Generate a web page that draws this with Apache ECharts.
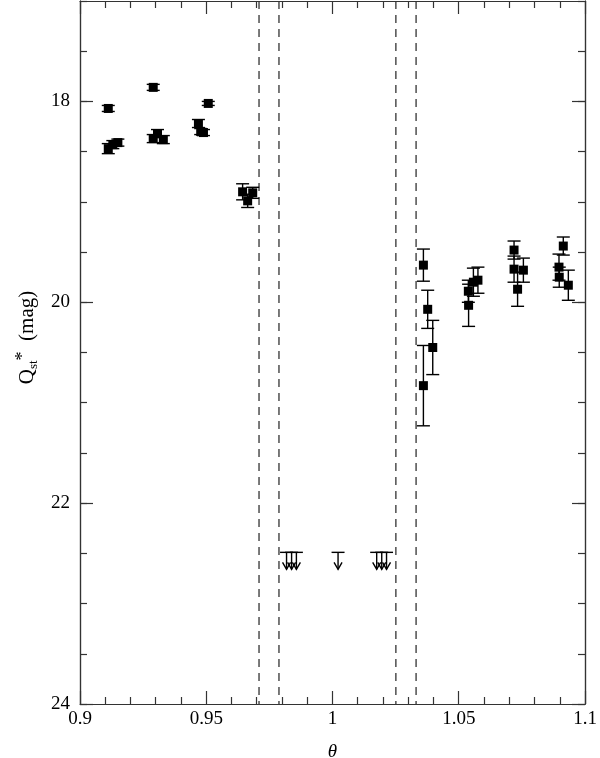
<!DOCTYPE html>
<html>
<head>
<meta charset="utf-8">
<script src="https://cdn.jsdelivr.net/npm/echarts@6/dist/echarts.min.js"></script>
<style>html,body{margin:0;padding:0;background:#fff}#c{width:600px;height:758px}</style>
</head>
<body>
<div id="c"></div>
<script>
// Detections: theta, Q_st* (mag), error (mag)
const thetaVals = [0.9112, 0.9290, 0.9508, 0.9112, 0.9130, 0.9150, 0.9290, 0.9307, 0.9330, 0.9469, 0.9478, 0.9489,
                   0.9644, 0.9684, 0.9664,
                   1.0360, 1.0377, 1.0397, 1.0360, 1.0538, 1.0539, 1.0558, 1.0576,
                   1.0719, 1.0719, 1.0756, 1.0733, 1.0914, 1.0897, 1.0898, 1.0934];
const magVals   = [18.07, 17.86, 18.02, 18.47, 18.43, 18.41, 18.37, 18.32, 18.38, 18.22, 18.30, 18.31,
                   18.90, 18.91, 18.99,
                   19.63, 20.07, 20.45, 20.83, 19.89, 20.03, 19.80, 19.78,
                   19.48, 19.67, 19.68, 19.87, 19.44, 19.65, 19.75, 19.83];
const magErrs   = [0.03, 0.03, 0.02, 0.05, 0.04, 0.035, 0.04, 0.04, 0.04, 0.04, 0.03, 0.03,
                   0.08, 0.055, 0.066,
                   0.16, 0.19, 0.27, 0.40, 0.11, 0.21, 0.14, 0.13,
                   0.09, 0.13, 0.12, 0.17, 0.09, 0.13, 0.10, 0.15];
// Upper limits
const limitTheta = [0.9818, 0.9838, 0.9857, 1.0022, 1.0175, 1.0195, 1.0214];
const limitMag   = [22.49, 22.49, 22.49, 22.49, 22.49, 22.49, 22.49];
// Dashed vertical markers
const dashTheta = [0.9709, 0.9788, 1.0251, 1.0331];
// Axis ticks
const yLabelVals = [18, 20, 22, 24];

const pts = thetaVals.map((t, i) => [t, magVals[i], magErrs[i]]);
const lims = limitTheta.map((t, i) => [t, limitMag[i]]);

const FONT = 'Liberation Serif';
const INK = '#000';
const AX = '#333';

const errRender = (params, api) => {
  const x = api.value(0), y = api.value(1), e = api.value(2);
  const a = api.coord([x, y - e]), b = api.coord([x, y + e]);
  const hw = 6.5;
  const st = {stroke: INK, lineWidth: 1.4};
  return {type: 'group', children: [
    {type: 'line', shape: {x1: a[0], y1: a[1], x2: b[0], y2: b[1]}, style: st},
    {type: 'line', shape: {x1: a[0] - hw, y1: a[1], x2: a[0] + hw, y2: a[1]}, style: st},
    {type: 'line', shape: {x1: b[0] - hw, y1: b[1], x2: b[0] + hw, y2: b[1]}, style: st}
  ]};
};

const limRender = (params, api) => {
  const x = api.value(0), y = api.value(1);
  const p = api.coord([x, y]);
  const st = {stroke: INK, lineWidth: 1.4, fill: null};
  const len = 17, hw = 6.5;
  return {type: 'group', children: [
    {type: 'line', shape: {x1: p[0] - hw, y1: p[1], x2: p[0] + hw, y2: p[1]}, style: st},
    {type: 'line', shape: {x1: p[0], y1: p[1], x2: p[0], y2: p[1] + len}, style: st},
    {type: 'polyline', shape: {points: [[p[0] - 4, p[1] + len - 7], [p[0], p[1] + len], [p[0] + 4, p[1] + len - 7]]}, style: st}
  ]};
};

const dashRender = (params, api) => {
  const v = api.value(0);
  const a = api.coord([v, 17]), b = api.coord([v, 24]);
  return {type: 'line', shape: {x1: a[0], y1: a[1], x2: b[0], y2: b[1]},
          style: {stroke: '#333', lineWidth: 1.3, lineDash: [8, 6]}};
};

const baseY = {
  type: 'value', min: 17, max: 24, inverse: true,
  splitLine: {show: false},
  axisLine: {show: true, lineStyle: {color: AX, width: 1.2}}
};
const minorY = (pos) => Object.assign({}, baseY, {
  position: pos, interval: 0.5,
  axisTick: {show: true, inside: true, length: 7, lineStyle: {color: AX, width: 1.2}},
  axisLabel: {show: false}
});
const majorY = (pos, label) => Object.assign({}, baseY, {
  position: pos, interval: 1,
  axisTick: {show: true, inside: true, length: 13, customValues: yLabelVals, lineStyle: {color: AX, width: 1.2}},
  axisLabel: label ? {show: true, customValues: yLabelVals, fontFamily: FONT, fontSize: 19, color: INK, margin: 10} : {show: false}
});

const baseX = (pos, label) => ({
  type: 'value', min: 0.9, max: 1.1, interval: 0.05, position: pos,
  splitLine: {show: false},
  axisLine: {show: true, lineStyle: {color: AX, width: 1.2}},
  axisTick: {show: true, inside: true, length: 13, lineStyle: {color: AX, width: 1.2}},
  minorTick: {show: true, splitNumber: 5, length: 7, lineStyle: {color: AX, width: 1.2}},
  axisLabel: label ? {show: true, fontFamily: FONT, fontSize: 19, color: INK, margin: 6} : {show: false}
});

const xMain = baseX('bottom', true);
xMain.name = 'θ';
xMain.nameLocation = 'middle';
xMain.nameGap = 38;
xMain.nameTextStyle = {fontFamily: FONT, fontStyle: 'italic', fontSize: 19, color: INK};

const yMain = majorY('left', true);
yMain.name = '{q|Q}{sub|st}{sup|*}{q|  (mag)}';
yMain.nameLocation = 'middle';
yMain.nameGap = 36;
yMain.nameTextStyle = {
  color: INK, padding: [0, 0, 0, 30],
  rich: {
    q: {fontFamily: FONT, fontSize: 21, color: INK},
    sub: {fontFamily: FONT, fontSize: 13, color: INK, verticalAlign: 'bottom', padding: [10, 0, 0, 0]},
    sup: {fontFamily: FONT, fontSize: 18, color: INK, verticalAlign: 'top', padding: [0, 0, 8, 0]}
  }
};

const chart = echarts.init(document.getElementById('c'), null, {renderer: 'canvas'});
chart.setOption({
  backgroundColor: '#fff',
  animation: false,
  grid: {left: 80, right: 15, top: 1, bottom: 54, containLabel: false, outerBoundsMode: 'none'},
  xAxis: [xMain, baseX('top', false)],
  yAxis: [yMain, minorY('left'), majorY('right', false), minorY('right')],
  series: [
    {
      type: 'custom', xAxisIndex: 0, yAxisIndex: 0, renderItem: dashRender,
      data: dashTheta.map(v => [v]), z: 2, silent: true, clip: false
    },
    {
      type: 'custom', xAxisIndex: 0, yAxisIndex: 0, renderItem: errRender,
      data: pts, z: 3, silent: true
    },
    {
      type: 'scatter', xAxisIndex: 0, yAxisIndex: 0, symbol: 'rect', symbolSize: 9,
      itemStyle: {color: INK, opacity: 1}, data: pts.map(p => [p[0], p[1]]), z: 4
    },
    {
      type: 'custom', xAxisIndex: 0, yAxisIndex: 0, renderItem: limRender,
      data: lims, z: 3, silent: true
    }
  ]
});
</script>
</body>
</html>
